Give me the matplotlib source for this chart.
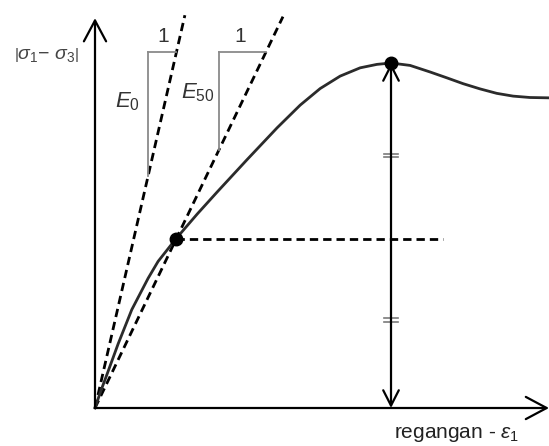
import numpy as np
import matplotlib
matplotlib.use("Agg")
import matplotlib.pyplot as plt

plt.rcParams["font.family"] = ["Liberation Sans", "DejaVu Sans"]
plt.rcParams["mathtext.fontset"] = "custom"
plt.rcParams["mathtext.rm"] = "Liberation Sans"
plt.rcParams["mathtext.it"] = "Liberation Sans:italic"

# stress-strain curve (strain, deviator stress, peak = 100)
strain = [0.0, 0.13, 0.26, 0.51, 0.81, 1.17, 1.39, 1.78, 2.25, 2.69, 3.35,
          4.01, 4.52, 4.96, 5.40, 5.84, 6.21, 6.52, 6.94, 7.38, 7.75, 8.11,
          8.48, 8.85, 9.21, 9.58, 10.0]
stress = [0.0, 5.0, 9.6, 18.6, 28.5, 37.6, 42.5, 49.0, 56.2, 62.6, 72.0,
          81.2, 87.8, 92.6, 96.2, 98.6, 99.6, 100.0, 99.3, 97.4, 95.7, 94.0,
          92.5, 91.2, 90.4, 90.0, 89.9]

peak = (6.52, 100.0)
half_point = (1.78, 49.0)
half_line_end = 7.67
E0 = 57.5      # initial tangent slope
E50 = 27.4     # secant slope through the 50 % point
E0_end = 1.98
E50_end = 4.14
tri_top = 103.2
E0_tri_x = 1.167
E50_tri_x = 2.73
equal_ticks = [73.3, 25.5]

fig = plt.figure(figsize=(5.49, 4.46), dpi=100)
ax = fig.add_axes([0, 0, 1, 1])
ax.set_xlim(-95 / 45.4, 454 / 45.4)
ax.set_ylim(-38 / 3.45, 408 / 3.45)
ax.axis("off")

# axes with open arrow heads
axis_arrow = dict(arrowstyle="->,head_length=0.75,head_width=0.4", lw=1.6,
                  color="black", shrinkA=0, shrinkB=0, mutation_scale=20)
ax.annotate("", xy=(0, 113), xytext=(0, 0), arrowprops=axis_arrow,
            annotation_clip=False)
ax.annotate("", xy=(10.0, 0), xytext=(0, 0), arrowprops=axis_arrow,
            annotation_clip=False)

# tangent / secant lines
dash = dict(color="black", lw=2.0, dashes=(3.0, 1.8))
ax.plot([0, E0_end], [0, E0 * E0_end], **dash)
ax.plot([0, E50_end], [0, E50 * E50_end], **dash)

# slope triangles
tri = dict(color="#8a8a8a", lw=1.3)
ax.plot([E0_tri_x, tri_top / E0], [tri_top, tri_top], **tri)
ax.plot([E0_tri_x, E0_tri_x], [tri_top, E0 * E0_tri_x], **tri)
ax.plot([E50_tri_x, tri_top / E50], [tri_top, tri_top], **tri)
ax.plot([E50_tri_x, E50_tri_x], [tri_top, E50 * E50_tri_x], **tri)

# curve
ax.plot(strain, stress, color="#2b2b2b", lw=2.0, solid_joinstyle="round",
        antialiased=True)

# 50 % level and peak arrow
ax.plot([half_point[0], half_line_end], [half_point[1], half_point[1]], **dash)
ax.annotate("", xy=(peak[0], peak[1]), xytext=(peak[0], 0),
            arrowprops=dict(arrowstyle="<->,head_length=0.55,head_width=0.28",
                            lw=1.6, color="black", shrinkA=0, shrinkB=0,
                            mutation_scale=20))
for t in equal_ticks:
    for dy in (-0.45, 0.45):
        ax.plot([peak[0] - 0.16, peak[0] + 0.16], [t + dy, t + dy],
                color="#7a7a7a", lw=1.2)

ax.plot(*half_point, "o", color="black", ms=9, zorder=5)
ax.plot(*peak, "o", color="black", ms=9, zorder=5)

# labels
txt = "#333333"
ax.text(1.50, 107.8, "1", fontsize=15, ha="center", va="center", color=txt)
ax.text(3.19, 107.8, "1", fontsize=15, ha="center", va="center", color=txt)
ax.text(0.72, 88.7, r"$E_0$", fontsize=16, ha="center", va="center", color=txt)
ax.text(2.27, 91.3, r"$E_{50}$", fontsize=16, ha="center", va="center",
        color=txt)
ax.text(-1.06, 102.3, r"$\left|\sigma_1\mathrm{-}\ \sigma_3\right|$",
        fontsize=14, ha="center", va="center", color="#444444")
ax.text(7.97, -7.5, r"regangan - $\varepsilon_1$", fontsize=15,
        ha="center", va="center", color="#222222")

fig.savefig("out.png", dpi=100)
